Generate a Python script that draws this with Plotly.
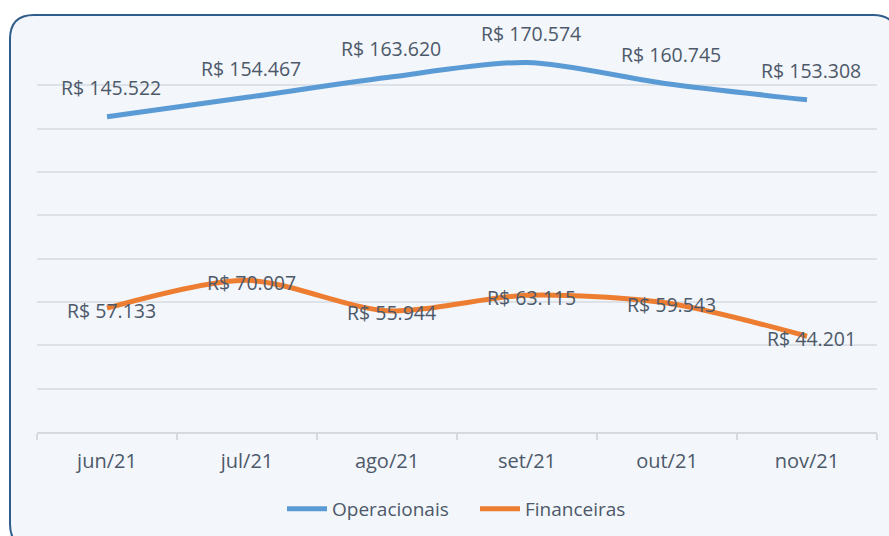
import plotly.graph_objects as go

months = ["jun/21", "jul/21", "ago/21", "set/21", "out/21", "nov/21"]
operacionais = [145522, 154467, 163620, 170574, 160745, 153308]
financeiras = [57133, 70007, 55944, 63115, 59543, 44201]

W, H = 889, 536
BLUE = "#5B9BD5"
ORANGE = "#ED7D31"
TXT = "#4D596A"
FONT = "Open Sans"


def fx(px):
    return px / W


def fy(py):
    return 1 - py / H


def brl(v):
    return "R$ " + f"{v:,}".replace(",", ".")


fig = go.Figure()
fig.add_trace(go.Scatter(x=months, y=operacionais, name="Operacionais", mode="lines",
                         line=dict(color=BLUE, width=5, shape="spline", smoothing=0.8)))
fig.add_trace(go.Scatter(x=months, y=financeiras, name="Financeiras", mode="lines",
                         line=dict(color=ORANGE, width=5, shape="spline", smoothing=0.8)))

annotations = []
for m, v in zip(months, operacionais):
    annotations.append(dict(x=m, y=v, text=brl(v), showarrow=False, yshift=29, xshift=4,
                            font=dict(family=FONT, size=19.5, color=TXT)))
for m, v in zip(months, financeiras):
    annotations.append(dict(x=m, y=v, text=brl(v), showarrow=False, yshift=-2, xshift=4,
                            font=dict(family=FONT, size=19.5, color=TXT)))

# rounded border box
l, t, r, b, rad = 10, 15, 897, 548, 24
path = (f"M {fx(l)},{fy(t + rad)} Q {fx(l)},{fy(t)} {fx(l + rad)},{fy(t)} "
        f"L {fx(r - rad)},{fy(t)} Q {fx(r)},{fy(t)} {fx(r)},{fy(t + rad)} "
        f"L {fx(r)},{fy(b - rad)} Q {fx(r)},{fy(b)} {fx(r - rad)},{fy(b)} "
        f"L {fx(l + rad)},{fy(b)} Q {fx(l)},{fy(b)} {fx(l)},{fy(b - rad)} Z")

fig.update_layout(
    width=W, height=H,
    margin=dict(l=0, r=0, t=0, b=0),
    paper_bgcolor="white",
    plot_bgcolor="rgba(0,0,0,0)",
    shapes=[dict(type="path", xref="paper", yref="paper", path=path,
                 fillcolor="#F3F6FA", line=dict(color="#2F5D8C", width=2), layer="below")],
    annotations=annotations,
    showlegend=True,
    legend=dict(orientation="h", x=fx(282), y=fy(509), xanchor="left", yanchor="middle",
                font=dict(family=FONT, size=19, color=TXT), bgcolor="rgba(0,0,0,0)",
                itemwidth=40, entrywidth=138, entrywidthmode="pixels"),
    xaxis=dict(domain=[fx(37), fx(877)], type="category", range=[-0.5, 5.5],
               showline=True, linecolor="#D5DAE1", linewidth=2,
               ticks="outside", tickson="boundaries", ticklen=6, tickcolor="#D5DAE1",
               tickwidth=2, showgrid=False, ticklabelstandoff=10,
               tickfont=dict(family=FONT, size=20, color=TXT)),
    yaxis=dict(domain=[fy(432), fy(42)], range=[0, 180000], dtick=20000,
               showticklabels=False, showgrid=True, gridcolor="#DDE2E8", gridwidth=2,
               zeroline=False, showline=False),
)

fig.write_html("out.html", config={"displayModeBar": False},
               post_script="document.body.style.margin='0';document.body.style.overflow='hidden';")
